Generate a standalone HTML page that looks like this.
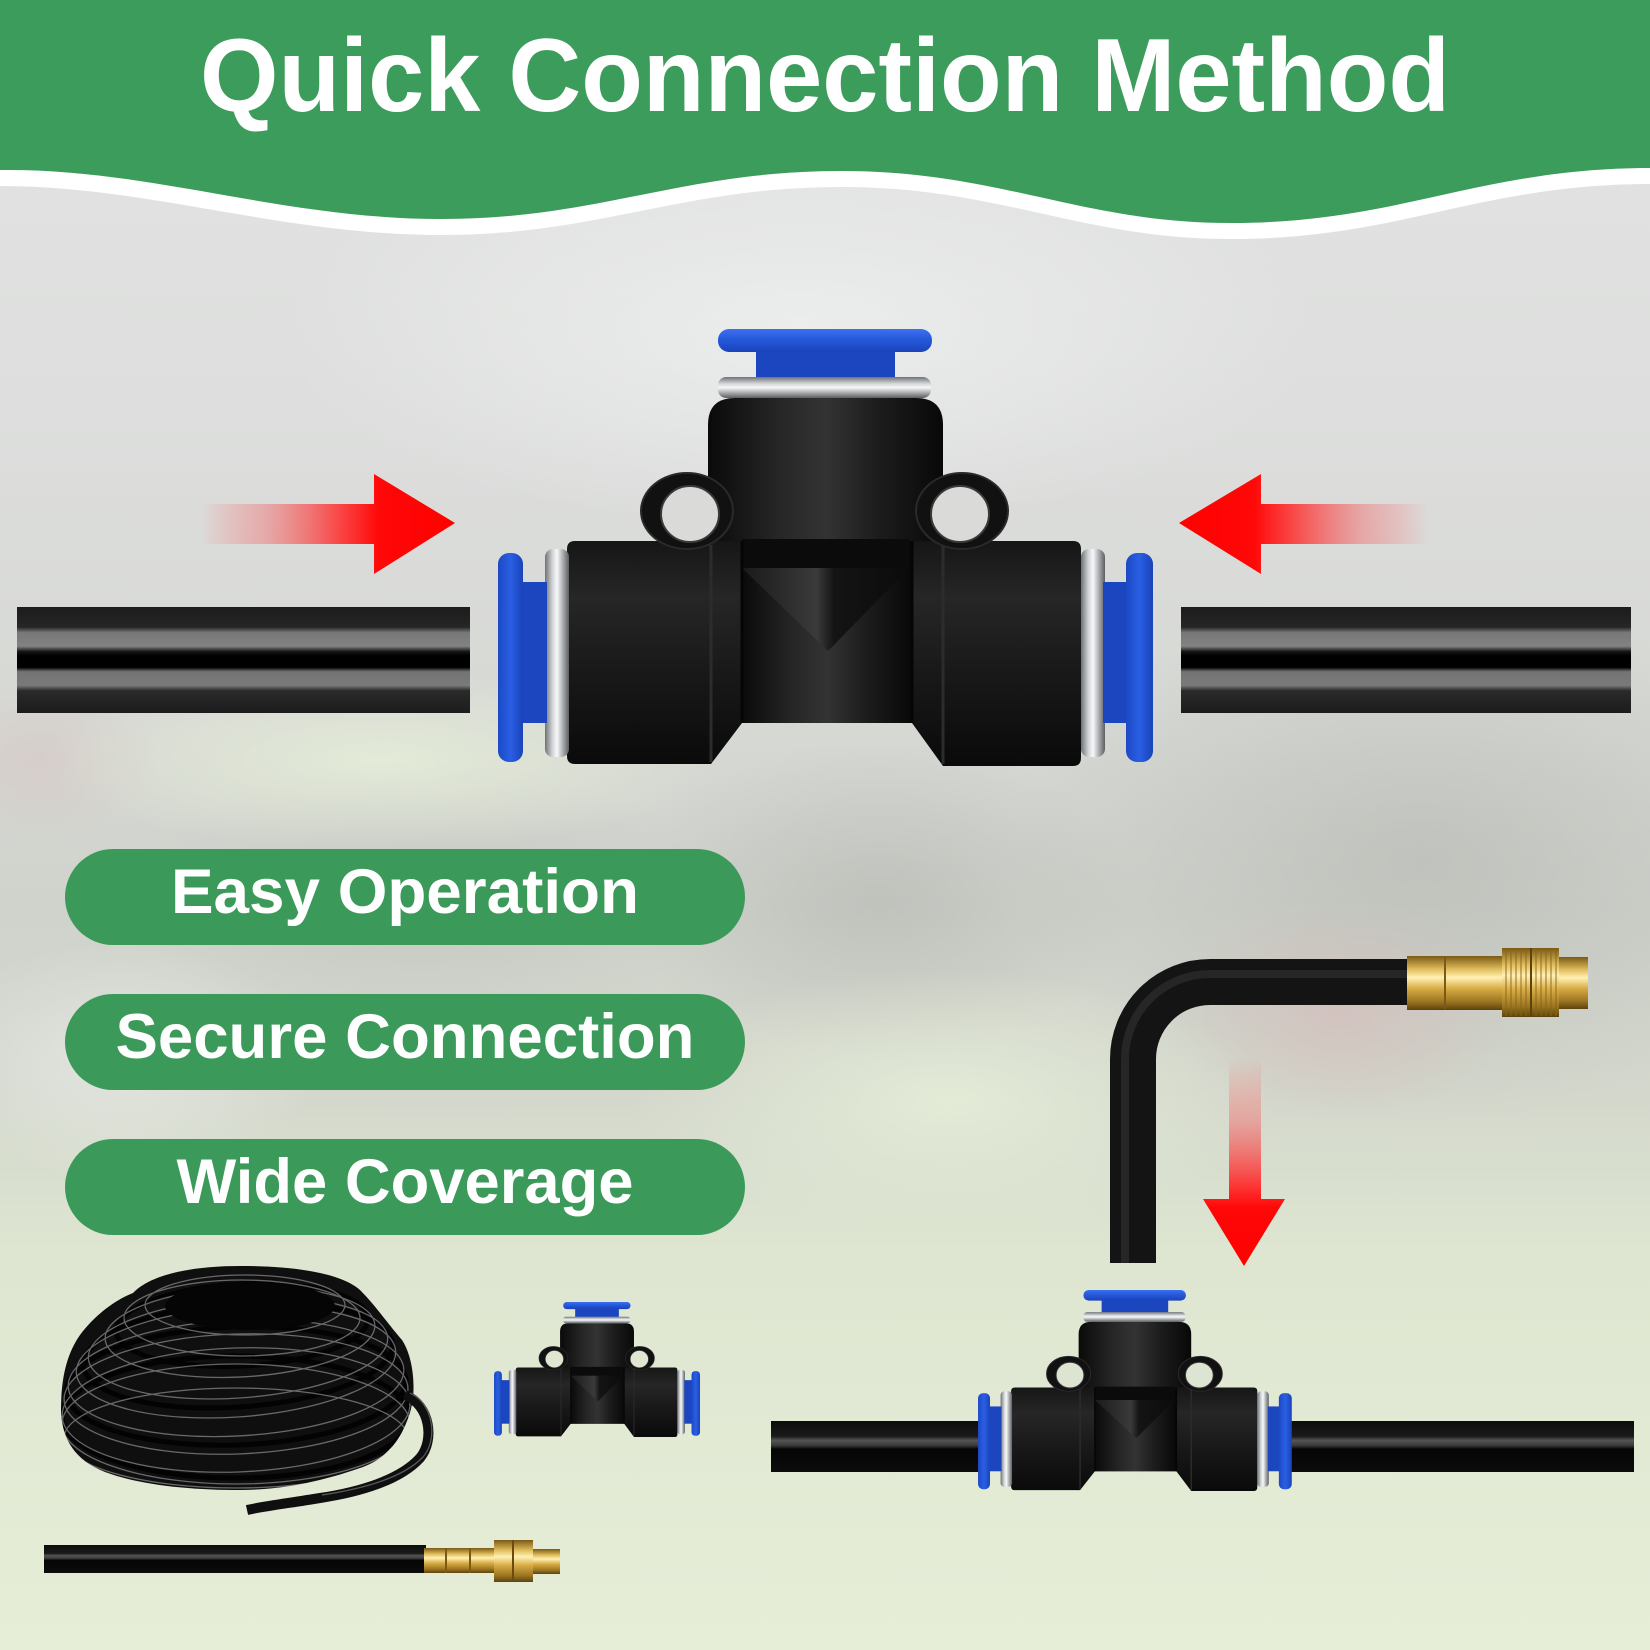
<!DOCTYPE html>
<html>
<head>
<meta charset="utf-8">
<style>
html,body{margin:0;padding:0;background:#dcdedb;}
svg{display:block;}
</style>
</head>
<body>
<svg width="1650" height="1650" viewBox="0 0 1650 1650" xmlns="http://www.w3.org/2000/svg">
<defs>
  <linearGradient id="bgV" x1="0" y1="0" x2="0" y2="1650" gradientUnits="userSpaceOnUse">
    <stop offset="0" stop-color="#e3e4e3"/>
    <stop offset="0.25" stop-color="#dddedd"/>
    <stop offset="0.42" stop-color="#d7d9d5"/>
    <stop offset="0.55" stop-color="#d0d3cc"/>
    <stop offset="0.66" stop-color="#d3d7cc"/>
    <stop offset="0.76" stop-color="#dee6d1"/>
    <stop offset="1" stop-color="#e6eed8"/>
  </linearGradient>
  <radialGradient id="blobLight"><stop offset="0" stop-color="#f0f2f2" stop-opacity="0.75"/><stop offset="1" stop-color="#f0f2f2" stop-opacity="0"/></radialGradient>
  <radialGradient id="blobDark"><stop offset="0" stop-color="#b4b7b1" stop-opacity="0.6"/><stop offset="1" stop-color="#b4b7b1" stop-opacity="0"/></radialGradient>
  <radialGradient id="blobPink"><stop offset="0" stop-color="#d9b9b9" stop-opacity="0.55"/><stop offset="1" stop-color="#d9b9b9" stop-opacity="0"/></radialGradient>
  <radialGradient id="blobGreen"><stop offset="0" stop-color="#e6eed8" stop-opacity="0.85"/><stop offset="1" stop-color="#e6eed8" stop-opacity="0"/></radialGradient>

  <linearGradient id="tubeG" x1="0" y1="0" x2="0" y2="1">
    <stop offset="0" stop-color="#1c1c1c"/>
    <stop offset="0.19" stop-color="#262626"/>
    <stop offset="0.24" stop-color="#777"/>
    <stop offset="0.37" stop-color="#828282"/>
    <stop offset="0.42" stop-color="#151515"/>
    <stop offset="0.46" stop-color="#000"/>
    <stop offset="0.57" stop-color="#000"/>
    <stop offset="0.61" stop-color="#737373"/>
    <stop offset="0.74" stop-color="#7a7a7a"/>
    <stop offset="0.79" stop-color="#2a2a2a"/>
    <stop offset="1" stop-color="#1c1c1c"/>
  </linearGradient>
  <linearGradient id="tubeG2" x1="0" y1="0" x2="0" y2="1">
    <stop offset="0" stop-color="#0c0c0c"/>
    <stop offset="0.3" stop-color="#1a1a1a"/>
    <stop offset="0.38" stop-color="#555"/>
    <stop offset="0.48" stop-color="#3a3a3a"/>
    <stop offset="0.55" stop-color="#050505"/>
    <stop offset="1" stop-color="#0c0c0c"/>
  </linearGradient>
  <linearGradient id="silverV" x1="0" y1="0" x2="0" y2="1">
    <stop offset="0" stop-color="#6f7275"/>
    <stop offset="0.3" stop-color="#cfd2d5"/>
    <stop offset="0.5" stop-color="#f7f8f9"/>
    <stop offset="0.75" stop-color="#a9acaf"/>
    <stop offset="1" stop-color="#5c5f62"/>
  </linearGradient>
  <linearGradient id="silverH" x1="0" y1="0" x2="1" y2="0">
    <stop offset="0" stop-color="#6f7275"/>
    <stop offset="0.3" stop-color="#cfd2d5"/>
    <stop offset="0.5" stop-color="#f7f8f9"/>
    <stop offset="0.75" stop-color="#a9acaf"/>
    <stop offset="1" stop-color="#5c5f62"/>
  </linearGradient>
  <linearGradient id="blueV" x1="0" y1="0" x2="0" y2="1">
    <stop offset="0" stop-color="#3d6ff0"/>
    <stop offset="0.5" stop-color="#2457d8"/>
    <stop offset="1" stop-color="#1a43b8"/>
  </linearGradient>
  <linearGradient id="blueH" x1="0" y1="0" x2="1" y2="0">
    <stop offset="0" stop-color="#1d49c4"/>
    <stop offset="0.5" stop-color="#2a5fe4"/>
    <stop offset="1" stop-color="#1a43b8"/>
  </linearGradient>
  <linearGradient id="bodyV" x1="0" y1="0" x2="0" y2="1">
    <stop offset="0" stop-color="#161616"/>
    <stop offset="0.25" stop-color="#262626"/>
    <stop offset="0.55" stop-color="#1a1a1a"/>
    <stop offset="1" stop-color="#0a0a0a"/>
  </linearGradient>
  <linearGradient id="stemH" x1="0" y1="0" x2="1" y2="0">
    <stop offset="0" stop-color="#0a0a0a"/>
    <stop offset="0.3" stop-color="#262626"/>
    <stop offset="0.5" stop-color="#333"/>
    <stop offset="0.72" stop-color="#1d1d1d"/>
    <stop offset="1" stop-color="#080808"/>
  </linearGradient>
  <linearGradient id="coneH" x1="0" y1="0" x2="1" y2="0">
    <stop offset="0" stop-color="#1a1a1a"/>
    <stop offset="0.45" stop-color="#3a3a3a"/>
    <stop offset="0.55" stop-color="#141414"/>
    <stop offset="1" stop-color="#0b0b0b"/>
  </linearGradient>
  <linearGradient id="brassV" x1="0" y1="0" x2="0" y2="1">
    <stop offset="0" stop-color="#7a5a14"/>
    <stop offset="0.25" stop-color="#e2bf5e"/>
    <stop offset="0.4" stop-color="#fff1b4"/>
    <stop offset="0.6" stop-color="#d9ad45"/>
    <stop offset="0.85" stop-color="#9a7420"/>
    <stop offset="1" stop-color="#5e420c"/>
  </linearGradient>
  <linearGradient id="redR" x1="200" y1="0" x2="455" y2="0" gradientUnits="userSpaceOnUse">
    <stop offset="0" stop-color="#ff5a5a" stop-opacity="0"/>
    <stop offset="0.25" stop-color="#f07070" stop-opacity="0.45"/>
    <stop offset="0.55" stop-color="#ff2a2a" stop-opacity="0.85"/>
    <stop offset="0.7" stop-color="#ff0808"/>
    <stop offset="1" stop-color="#ff0000"/>
  </linearGradient>
  <linearGradient id="redL" x1="1429" y1="0" x2="1179" y2="0" gradientUnits="userSpaceOnUse">
    <stop offset="0" stop-color="#ff5a5a" stop-opacity="0"/>
    <stop offset="0.25" stop-color="#f07070" stop-opacity="0.45"/>
    <stop offset="0.55" stop-color="#ff2a2a" stop-opacity="0.85"/>
    <stop offset="0.7" stop-color="#ff0808"/>
    <stop offset="1" stop-color="#ff0000"/>
  </linearGradient>
  <linearGradient id="redD" x1="0" y1="1058" x2="0" y2="1266" gradientUnits="userSpaceOnUse">
    <stop offset="0" stop-color="#ff5a5a" stop-opacity="0"/>
    <stop offset="0.3" stop-color="#f07070" stop-opacity="0.5"/>
    <stop offset="0.6" stop-color="#ff2a2a" stop-opacity="0.9"/>
    <stop offset="0.72" stop-color="#ff0808"/>
    <stop offset="1" stop-color="#ff0000"/>
  </linearGradient>
  <clipPath id="coilClip">
    <path d="M133,1293 C150,1275 190,1266 240,1266 C290,1266 340,1272 360,1290 C375,1305 385,1320 402,1340 C415,1360 416,1395 410,1412 C402,1440 385,1460 360,1468 C320,1482 280,1490 240,1490 C190,1490 140,1485 105,1472 C75,1460 62,1440 61,1410 C61,1380 66,1355 80,1335 C95,1315 115,1300 133,1293 Z"/>
  </clipPath>

  <g id="tee">
    <path d="M708,425 Q708,398 735,398 L916,398 Q943,398 943,425 L943,560 L708,560 Z" fill="url(#stemH)"/>
    <path d="M575,541 L1073,541 Q1081,541 1081,549 L1081,758 Q1081,766 1073,766 L943,766 L912,723 L742,723 L711,764 L575,764 Q567,764 567,756 L567,549 Q567,541 575,541 Z" fill="url(#bodyV)"/>
    <rect x="742" y="541" width="170" height="182" fill="url(#stemH)"/>
    <rect x="742" y="539" width="167" height="29" fill="#0b0b0b"/>
    <path d="M742,568 L909,568 L828,651 Z" fill="url(#coneH)"/>
    <line x1="711" y1="545" x2="711" y2="762" stroke="#2c2c2c" stroke-width="3"/>
    <line x1="943" y1="545" x2="943" y2="764" stroke="#2c2c2c" stroke-width="3"/>
    <line x1="742" y1="541" x2="742" y2="723" stroke="#050505" stroke-width="3"/>
    <line x1="912" y1="541" x2="912" y2="723" stroke="#050505" stroke-width="3"/>
    <ellipse cx="687" cy="511" rx="46" ry="38" fill="#111" stroke="#2a2a2a" stroke-width="2"/>
    <ellipse cx="690" cy="514" rx="29" ry="28" fill="currentColor" stroke="#3a3a3a" stroke-width="2"/>
    <ellipse cx="962" cy="511" rx="46" ry="38" fill="#111" stroke="#2a2a2a" stroke-width="2"/>
    <ellipse cx="960" cy="514" rx="29" ry="28" fill="currentColor" stroke="#3a3a3a" stroke-width="2"/>
    <rect x="718" y="377" width="213" height="21" rx="8" fill="url(#silverV)"/>
    <rect x="756" y="350" width="139" height="27" fill="#1b46c0"/>
    <rect x="718" y="329" width="214" height="23" rx="11" fill="url(#blueV)"/>
    <rect x="545" y="549" width="24" height="208" rx="8" fill="url(#silverH)"/>
    <rect x="520" y="582" width="27" height="141" fill="#1b46c0"/>
    <rect x="498" y="553" width="25" height="209" rx="11" fill="url(#blueH)"/>
    <rect x="1081" y="549" width="24" height="208" rx="8" fill="url(#silverH)"/>
    <rect x="1103" y="582" width="27" height="141" fill="#1b46c0"/>
    <rect x="1126" y="553" width="27" height="209" rx="11" fill="url(#blueH)"/>
  </g>
</defs>

<!-- background -->
<rect x="0" y="0" width="1650" height="1650" fill="url(#bgV)"/>
<ellipse cx="800" cy="330" rx="520" ry="200" fill="url(#blobLight)"/>
<ellipse cx="420" cy="900" rx="300" ry="140" fill="url(#blobDark)" opacity="0.6"/>
<ellipse cx="1420" cy="860" rx="420" ry="260" fill="url(#blobDark)"/>
<ellipse cx="880" cy="900" rx="260" ry="160" fill="url(#blobDark)"/>
<ellipse cx="1340" cy="1010" rx="170" ry="110" fill="url(#blobPink)"/>
<ellipse cx="40" cy="760" rx="120" ry="80" fill="url(#blobPink)" opacity="0.6"/>
<ellipse cx="380" cy="760" rx="340" ry="90" fill="url(#blobGreen)"/>
<ellipse cx="120" cy="1060" rx="200" ry="120" fill="url(#blobLight)" opacity="0.7"/>
<ellipse cx="950" cy="1100" rx="320" ry="130" fill="url(#blobGreen)"/>

<!-- header -->
<path d="M0,0 H1650 V184 C1480,184 1400,239 1231,239 C1080,239 1000,187 842,187 C680,187 600,235 442,235 C280,235 150,186 0,186 Z" fill="#ffffff"/>
<path d="M0,0 H1650 V168 C1480,168 1400,223 1231,223 C1080,223 1000,171 842,171 C680,171 600,219 442,219 C280,219 150,168 0,170 Z" fill="#3c9c5b"/>
<text x="825" y="111" text-anchor="middle" font-family="'Liberation Sans', Arial, sans-serif" font-weight="700" font-size="104" fill="#ffffff" textLength="1250" lengthAdjust="spacingAndGlyphs">Quick Connection Method</text>

<!-- arrows -->
<polygon points="200,504 374,504 374,474 455,523 374,574 374,544 200,544" fill="url(#redR)"/>
<polygon points="1429,504 1261,504 1261,474 1179,523 1261,574 1261,544 1429,544" fill="url(#redL)"/>

<!-- big tubes -->
<rect x="17" y="607" width="453" height="106" fill="url(#tubeG)"/>
<rect x="1181" y="607" width="450" height="106" fill="url(#tubeG)"/>

<!-- big tee -->
<use href="#tee" style="color:#dadbd8"/>

<!-- pills -->
<rect x="65" y="849" width="680" height="96" rx="48" fill="#3b9a59"/>
<text x="405" y="913" text-anchor="middle" font-family="'Liberation Sans', Arial, sans-serif" font-weight="700" font-size="63" fill="#ffffff" textLength="468" lengthAdjust="spacingAndGlyphs">Easy Operation</text>
<rect x="65" y="994" width="680" height="96" rx="48" fill="#3b9a59"/>
<text x="405" y="1058" text-anchor="middle" font-family="'Liberation Sans', Arial, sans-serif" font-weight="700" font-size="63" fill="#ffffff" textLength="579" lengthAdjust="spacingAndGlyphs">Secure Connection</text>
<rect x="65" y="1139" width="680" height="96" rx="48" fill="#3b9a59"/>
<text x="405" y="1203" text-anchor="middle" font-family="'Liberation Sans', Arial, sans-serif" font-weight="700" font-size="63" fill="#ffffff" textLength="457" lengthAdjust="spacingAndGlyphs">Wide Coverage</text>

<!-- L tube with nozzle -->
<path d="M1133,1263 V1059 A77,77 0 0 1 1210,982 H1410" fill="none" stroke="#141414" stroke-width="46"/>
<path d="M1125,1263 V1059 A85,85 0 0 1 1210,974 H1410" fill="none" stroke="#2e2e2e" stroke-width="8" opacity="0.7"/>
<rect x="1407" y="956" width="95" height="54" fill="url(#brassV)"/>
<line x1="1445" y1="957" x2="1445" y2="1009" stroke="#7a5a14" stroke-width="2"/>
<rect x="1502" y="948" width="57" height="69" fill="url(#brassV)"/>
<g stroke="#8a6416" stroke-width="1.3" opacity="0.7">
  <line x1="1506" y1="949" x2="1506" y2="1016"/><line x1="1511" y1="949" x2="1511" y2="1016"/>
  <line x1="1516" y1="949" x2="1516" y2="1016"/><line x1="1521" y1="949" x2="1521" y2="1016"/>
  <line x1="1526" y1="949" x2="1526" y2="1016"/><line x1="1536" y1="949" x2="1536" y2="1016"/>
  <line x1="1541" y1="949" x2="1541" y2="1016"/><line x1="1546" y1="949" x2="1546" y2="1016"/>
  <line x1="1551" y1="949" x2="1551" y2="1016"/><line x1="1556" y1="949" x2="1556" y2="1016"/>
</g>
<line x1="1531" y1="948" x2="1531" y2="1017" stroke="#5e420c" stroke-width="2"/>
<rect x="1559" y="957" width="29" height="52" fill="url(#brassV)"/>

<!-- down arrow -->
<polygon points="1229,1058 1261,1058 1261,1199 1285,1199 1244,1266 1203,1199 1229,1199" fill="url(#redD)"/>

<!-- bottom right tubes + small tee -->
<rect x="771" y="1421" width="210" height="51" fill="url(#tubeG2)"/>
<rect x="1290" y="1421" width="344" height="51" fill="url(#tubeG2)"/>
<use href="#tee" transform="translate(739.5,1138.7) scale(0.479,0.46)" style="color:#dde4d2"/>

<!-- coil -->
<g>
  <path d="M133,1293 C150,1275 190,1266 240,1266 C290,1266 340,1272 360,1290 C375,1305 385,1320 402,1340 C415,1360 416,1395 410,1412 C402,1440 385,1460 360,1468 C320,1482 280,1490 240,1490 C190,1490 140,1485 105,1472 C75,1460 62,1440 61,1410 C61,1380 66,1355 80,1335 C95,1315 115,1300 133,1293 Z" fill="#0f0f0f"/>
  <g clip-path="url(#coilClip)" fill="none">
    <g stroke="#030303" stroke-width="5">
      <ellipse cx="242" cy="1325" rx="126" ry="41" transform="rotate(-3 242 1325)"/>
      <ellipse cx="238" cy="1355" rx="155" ry="52" transform="rotate(-4 238 1355)"/>
      <ellipse cx="236" cy="1386" rx="170" ry="59" transform="rotate(-2 236 1386)"/>
      <ellipse cx="236" cy="1417" rx="174" ry="61"/>
    </g>
    <g stroke="#b5b5b5" stroke-width="1.3" opacity="0.55">
      <ellipse cx="245" cy="1305" rx="100" ry="30"/>
      <ellipse cx="242" cy="1318" rx="118" ry="38"/>
      <ellipse cx="240" cy="1332" rx="135" ry="45" transform="rotate(-3 240 1332)"/>
      <ellipse cx="238" cy="1348" rx="150" ry="50" transform="rotate(-4 238 1348)"/>
      <ellipse cx="236" cy="1362" rx="160" ry="55" transform="rotate(-4 236 1362)"/>
      <ellipse cx="236" cy="1378" rx="168" ry="58" transform="rotate(-3 236 1378)"/>
      <ellipse cx="236" cy="1394" rx="172" ry="60" transform="rotate(-2 236 1394)"/>
      <ellipse cx="236" cy="1410" rx="174" ry="62" transform="rotate(-2 236 1410)"/>
      <ellipse cx="236" cy="1424" rx="174" ry="60"/>
      <ellipse cx="236" cy="1438" rx="172" ry="50"/>
    </g>
  </g>
  <ellipse cx="250" cy="1306" rx="85" ry="24" fill="#050505"/>
  <path d="M405,1395 C430,1405 435,1440 420,1458 C400,1480 360,1492 320,1498 C290,1503 265,1506 247,1510" fill="none" stroke="#0f0f0f" stroke-width="10"/>
  <path d="M410,1393 C434,1404 438,1440 423,1457 C403,1478 362,1489 322,1495" fill="none" stroke="#888" stroke-width="1.3" opacity="0.6"/>
</g>

<!-- small tee middle -->
<use href="#tee" transform="translate(337.4,1200.3) scale(0.3145,0.309)" style="color:#dfe7d3"/>

<!-- straight tube + brass -->
<rect x="44" y="1545" width="382" height="28" fill="url(#tubeG2)"/>
<rect x="424" y="1548" width="70" height="25" fill="url(#brassV)"/>
<line x1="446" y1="1548" x2="446" y2="1573" stroke="#7a5a14" stroke-width="2"/>
<line x1="470" y1="1548" x2="470" y2="1573" stroke="#7a5a14" stroke-width="2"/>
<rect x="494" y="1540" width="39" height="42" fill="url(#brassV)"/>
<line x1="513" y1="1540" x2="513" y2="1582" stroke="#6a4a10" stroke-width="2"/>
<rect x="533" y="1549" width="27" height="25" fill="url(#brassV)"/>
</svg>
</body>
</html>
